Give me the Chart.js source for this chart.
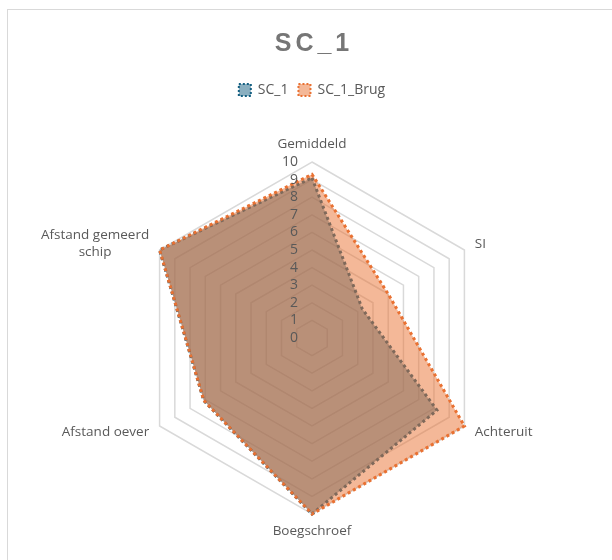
<!DOCTYPE html>
<html>
<head>
<meta charset="utf-8">
<title>SC_1</title>
<script src="https://cdn.jsdelivr.net/npm/chart.js@4.4.1/dist/chart.umd.min.js"></script>
<style>
    body { margin: 0; background: #fff; overflow: hidden; }
    #frame {
        position: absolute;
        left: 7px;
        top: 9px;
        width: 700px;
        height: 700px;
        border: 1px solid #d9d9d9;
        background: #fff;
    }
    #frame canvas { display: block; }
</style>
</head>
<body>
<div id="frame"><canvas id="radar-chart" width="604" height="600"></canvas></div>
<script>
const chartTitle = 'SC_1';
const categories = ['Gemiddeld', 'SI', 'Achteruit', 'Boegschroef', 'Afstand oever', ['Afstand gemeerd', 'schip']];
const sc1Values = [9.1, 3.3, 8.2, 10, 7.1, 10];
const sc1BrugValues = [9.3, 5.0, 10, 10, 7.1, 10];

const textColor = '#595959';
const labelFont = '13.5px "Open Sans"';

// Excel style title (letter spaced), drawn on the canvas
const titlePlugin = {
    id: 'sheetTitle',
    afterDraw(chart) {
        const ctx = chart.ctx;
        const area = chart.chartArea;
        ctx.save();
        ctx.font = 'bold 25px "Liberation Sans"';
        ctx.letterSpacing = '4px';
        ctx.fillStyle = '#767676';
        ctx.textAlign = 'center';
        ctx.textBaseline = 'middle';
        ctx.fillText(chartTitle, area.left + area.width / 2 + 2, 34);
        ctx.restore();
    }
};

// tick labels left of the vertical axis, point labels centred per line
const radarLabels = {
    id: 'radarLabels',
    afterDatasetsDraw(chart) {
        const ctx = chart.ctx;
        const scale = chart.scales.r;
        ctx.save();
        ctx.fillStyle = textColor;

        ctx.font = '14px "Open Sans"';
        ctx.textAlign = 'right';
        ctx.textBaseline = 'middle';
        scale.ticks.forEach(tick => {
            const y = scale.yCenter - scale.getDistanceFromCenterForValue(tick.value);
            ctx.fillText(tick.label, scale.xCenter - 14, y);
        });

        ctx.font = labelFont;
        ctx.textAlign = 'center';
        const lh = 17;
        chart.data.labels.forEach((label, i) => {
            const lines = Array.isArray(label) ? label : [label];
            const deg = Math.round(scale.getIndexAngle(i) * 180 / Math.PI) % 360;
            const vertical = deg === 0 || deg === 180;
            const pos = scale.getPointPosition(i, scale.drawingArea + (vertical ? 9 : 12));
            const w = Math.max(...lines.map(l => ctx.measureText(l).width));
            const h = lines.length * lh;
            let left = pos.x - w / 2;
            let top = pos.y - h / 2;
            if (deg === 0) top = pos.y - h;
            else if (deg === 180) top = pos.y;
            else if (deg < 180) left = pos.x;
            else left = pos.x - w;
            lines.forEach((line, j) => {
                ctx.fillText(line, left + w / 2, top + lh * j + lh / 2);
            });
        });
        ctx.restore();
    }
};

const ctx = document.getElementById('radar-chart');
new Chart(ctx, {
    type: 'radar',
    data: {
        labels: categories,
        datasets: [{
            label: 'SC_1',
            data: sc1Values,
            order: 2,
            fill: true,
            backgroundColor: 'rgba(21, 96, 130, 0.5)',
            borderColor: '#156082',
            borderWidth: 3,
            borderDash: [3, 3],
            pointRadius: 0
        }, {
            label: 'SC_1_Brug',
            data: sc1BrugValues,
            order: 1,
            fill: true,
            backgroundColor: 'rgba(233, 113, 50, 0.5)',
            borderColor: '#E97132',
            borderWidth: 3,
            borderDash: [3, 3],
            pointRadius: 0
        }]
    },
    options: {
        responsive: false,
        animation: false,
        layout: {
            padding: { top: 63, left: 128, right: 124, bottom: 41 }
        },
        scales: {
            r: {
                min: 0,
                max: 10,
                ticks: { stepSize: 1, display: false },
                grid: { color: '#d9d9d9', lineWidth: 1.5 },
                angleLines: { display: false },
                pointLabels: { display: false }
            }
        },
        plugins: {
            title: { display: false },
            tooltip: { enabled: false },
            legend: {
                position: 'top',
                reverse: true,
                labels: {
                    color: textColor,
                    font: { family: 'Open Sans', size: 14 },
                    boxWidth: 12,
                    boxHeight: 12,
                    padding: 10,
                    generateLabels(chart) {
                        const items = Chart.defaults.plugins.legend.labels.generateLabels(chart);
                        items.forEach(item => {
                            item.lineWidth = 2;
                            item.lineDash = [2, 2];
                        });
                        return items;
                    }
                }
            }
        }
    },
    plugins: [titlePlugin, radarLabels]
});
</script>
</body>
</html>
